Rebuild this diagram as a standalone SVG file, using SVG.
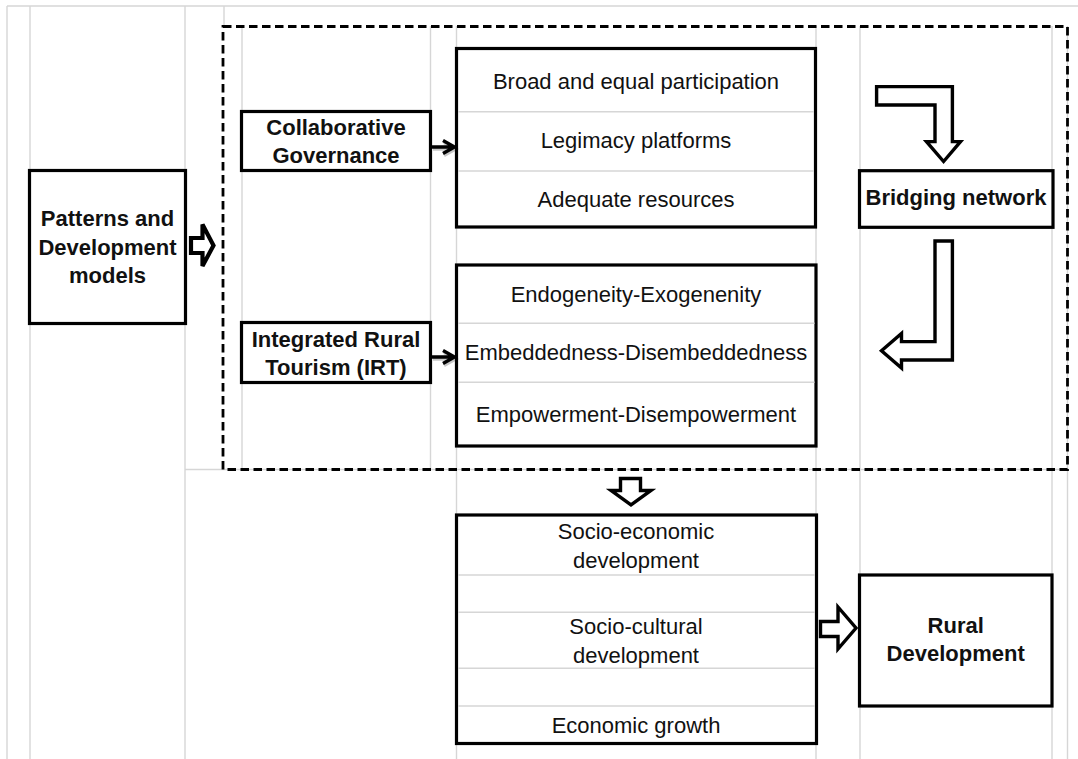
<svg xmlns="http://www.w3.org/2000/svg" width="1078" height="759" viewBox="0 0 1078 759">
<style>
.grid{stroke:#d6d6d6;stroke-width:1.4;fill:none}
.box{fill:#fff;stroke:#000;stroke-width:3.2}
.row{stroke:#d6d6d6;stroke-width:1.4}
.dash{fill:none;stroke:#000;stroke-width:2.8;stroke-dasharray:8.5 4.5}
.t{font-family:"Liberation Sans",Arial,sans-serif;font-size:22px;fill:#111;text-anchor:middle}
.b{font-weight:bold}
.blk{fill:#fff;stroke:#000;stroke-width:3.4;stroke-linejoin:miter}
.chev{fill:none;stroke:#000;stroke-width:3.4}
.shadow{fill:none;stroke:#000;stroke-opacity:0.22;stroke-width:3.4}
</style>
<rect width="1078" height="759" fill="#fff"/>
<g id="grid">
<line class="grid" x1="7" y1="6" x2="1078" y2="6"/>
<line class="grid" x1="7" y1="6" x2="7" y2="759"/>
<line class="grid" x1="30" y1="6" x2="30" y2="759"/>
<line class="grid" x1="185" y1="6" x2="185" y2="759"/>
<line class="grid" x1="224" y1="6" x2="224" y2="26"/>
<line class="grid" x1="242" y1="26" x2="242" y2="469"/>
<line class="grid" x1="430.5" y1="26" x2="430.5" y2="469"/>
<line class="grid" x1="456.5" y1="26" x2="456.5" y2="759"/>
<line class="grid" x1="816" y1="26" x2="816" y2="759"/>
<line class="grid" x1="860" y1="26" x2="860" y2="759"/>
<line class="grid" x1="1052" y1="26" x2="1052" y2="759"/>
<line class="grid" x1="1067.5" y1="26" x2="1067.5" y2="759"/>
<line class="grid" x1="185" y1="469.5" x2="1067.5" y2="469.5"/>
</g>
<g id="group-box">
<rect class="dash" x="223" y="26.5" width="844.5" height="443"/>
</g>
<g id="patterns">
<rect class="box" x="29.5" y="170.5" width="156" height="153"/>
<text class="t b" x="107.5" y="226">Patterns and</text>
<text class="t b" x="107.5" y="254.5">Development</text>
<text class="t b" x="107.5" y="283">models</text>
</g>
<g id="collaborative">
<rect class="box" x="241.5" y="111.5" width="189" height="59"/>
<text class="t b" x="336" y="135">Collaborative</text>
<text class="t b" x="336" y="163.3">Governance</text>
</g>
<g id="irt">
<rect class="box" x="241.5" y="322.5" width="189" height="60"/>
<text class="t b" x="336" y="346.7">Integrated Rural</text>
<text class="t b" x="336" y="375">Tourism (IRT)</text>
</g>
<g id="cg-items">
<rect class="box" x="456.5" y="48.5" width="359" height="178.5"/>
<line class="row" x1="458" y1="111.7" x2="814" y2="111.7"/>
<line class="row" x1="458" y1="171" x2="814" y2="171"/>
<text class="t" x="636" y="89.3">Broad and equal participation</text>
<text class="t" x="636" y="148.3">Legimacy platforms</text>
<text class="t" x="636" y="206.7">Adequate resources</text>
</g>
<g id="irt-items">
<rect class="box" x="456.5" y="265" width="359.5" height="181"/>
<line class="row" x1="458" y1="323.3" x2="814.5" y2="323.3"/>
<line class="row" x1="458" y1="382.3" x2="814.5" y2="382.3"/>
<text class="t" x="636" y="301.7">Endogeneity-Exogenenity</text>
<text class="t" x="636" y="360">Embeddedness-Disembeddedness</text>
<text class="t" x="636" y="422.3">Empowerment-Disempowerment</text>
</g>
<g id="bridging">
<rect class="box" x="859.5" y="170.7" width="193.5" height="56.6"/>
<text class="t b" x="956" y="205">Bridging network</text>
</g>
<g id="outcomes">
<rect class="box" x="456.5" y="515" width="360" height="228.5"/>
<line class="row" x1="458" y1="575" x2="815" y2="575"/>
<line class="row" x1="458" y1="612.3" x2="815" y2="612.3"/>
<line class="row" x1="458" y1="668.3" x2="815" y2="668.3"/>
<line class="row" x1="458" y1="706" x2="815" y2="706"/>
<text class="t" x="636" y="539">Socio-economic</text>
<text class="t" x="636" y="567.7">development</text>
<text class="t" x="636" y="634.3">Socio-cultural</text>
<text class="t" x="636" y="662.7">development</text>
<text class="t" x="636" y="732.7">Economic growth</text>
</g>
<g id="rural">
<rect class="box" x="859.5" y="575" width="192.5" height="131"/>
<text class="t b" x="955.7" y="632.7">Rural</text>
<text class="t b" x="955.7" y="661">Development</text>
</g>
<g id="connectors">
<path class="blk" style="stroke-width:4.2" d="M191,238 H202.5 V224.5 L213.5,245.5 L202.5,266 V253 H191 Z"/>
<path class="shadow" d="M433,149 H454 M444,142.5 L455.5,149 L444,155.5"/>
<path class="chev" d="M432,147 H453 M443,140.5 L454.5,147 L443,153.5"/>
<path class="shadow" d="M433,359 H454 M444,352.5 L455.5,359 L444,365.5"/>
<path class="chev" d="M432,357 H453 M443,350.5 L454.5,357 L443,363.5"/>
<path class="blk" d="M876.6,86.6 H952.4 V141.6 H960.5 L943.6,161.5 L926.5,141.6 H935 V105 H876.6 Z"/>
<path class="blk" d="M935,241 H952.4 V360 H901.5 V368 L881.5,350.8 L901.5,333.5 V341.6 H935 Z"/>
<path class="blk" d="M620.5,478.5 H640.5 V490.5 H651 L631,505 L611,490.5 H620.5 Z"/>
<path class="blk" d="M820.5,621.5 H838 V607 L856,628 L838,649 V636.5 H820.5 Z"/>
</g>
</svg>
